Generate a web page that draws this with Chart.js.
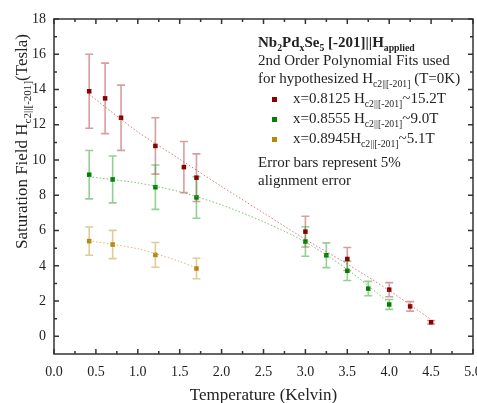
<!DOCTYPE html>
<html>
<head>
<meta charset="utf-8">
<script src="https://cdn.jsdelivr.net/npm/chart.js@4"></script>
<style>
  html, body { margin: 0; padding: 0; background: #fff; }
  #wrap { width: 477px; height: 403px; }
</style>
</head>
<body>
<div id="wrap"><canvas id="chart"></canvas></div>
<script>
// measured points, x = 0.8125
const redT = [0.42, 0.61, 0.80, 1.21, 1.55, 1.70, 3.0, 3.5, 4.0, 4.25, 4.5];
const redH = [13.9, 13.5, 12.4, 10.8, 9.6, 9.0, 5.94, 4.39, 2.65, 1.70, 0.80];
const redErr = [2.1, 2.0, 1.85, 1.6, 1.45, 1.35, 0.87, 0.65, 0.4, 0.27, 0.1];

// x = 0.8555
const greenT = [0.42, 0.70, 1.21, 1.70, 3.0, 3.25, 3.5, 3.75, 4.0];
const greenH = [9.17, 8.9, 8.46, 7.88, 5.38, 4.6, 3.72, 2.71, 1.81];
const greenErr = [1.37, 1.33, 1.26, 1.18, 0.84, 0.7, 0.55, 0.41, 0.28];

// x = 0.8945
const goldT = [0.42, 0.70, 1.21, 1.70];
const goldH = [5.4, 5.21, 4.62, 3.85];
const goldErr = [0.8, 0.8, 0.7, 0.58];

// fit curves
const redFitT = [0.42, 1.0, 1.5, 2.0, 2.5, 3.0, 3.5, 4.0, 4.5];
const redFitH = [13.72, 11.6, 10.05, 8.5, 7.0, 5.5, 4.1, 2.6, 0.95];
const greenFitT = [0.42, 1.0, 1.5, 2.0, 2.5, 3.0, 3.5, 4.0];
const greenFitH = [9.05, 8.7, 8.2, 7.45, 6.5, 5.35, 3.8, 1.9];
const goldFitT = [0.42, 0.7, 1.0, 1.22, 1.5, 1.7];
const goldFitH = [5.42, 5.22, 4.97, 4.68, 4.25, 3.87];

const xTicks = [0, 0.5, 1, 1.5, 2, 2.5, 3, 3.5, 4, 4.5, 5];
const yTicks = [0, 2, 4, 6, 8, 10, 12, 14, 16, 18];

const RED = '#8b0000', GREEN = '#008000', GOLD = '#b8860b';
const RED_ERR = 'rgba(180,80,80,0.55)', GREEN_ERR = 'rgba(60,170,60,0.55)', GOLD_ERR = 'rgba(200,160,70,0.55)';
const SERIF = '"Liberation Serif", "DejaVu Serif", serif';

const pts = (xs, ys) => xs.map((x, i) => ({ x: x, y: ys[i] }));

function fitSet(xs, ys, color) {
  return {
    data: pts(xs, ys), showLine: true, borderColor: color, borderWidth: 1,
    borderDash: [1.5, 2], pointRadius: 0, tension: 0.3, fill: false
  };
}
function markSet(xs, ys, err, color, errColor) {
  return {
    data: pts(xs, ys), err: err, errColor: errColor, showLine: false,
    pointStyle: 'rect', pointRadius: 3.2, backgroundColor: color, borderColor: color, borderWidth: 0
  };
}

// draw text with subscript pieces: [text, 'n' | 's']
function richText(ctx, parts, x, y, size, bold) {
  let cx = x;
  parts.forEach(p => {
    const sub = p[1] === 's';
    const fs = sub ? size * 0.65 : size;
    ctx.font = (bold ? 'bold ' : '') + fs + 'px ' + SERIF;
    ctx.fillText(p[0], cx, sub ? y + size * 0.25 : y);
    cx += ctx.measureText(p[0]).width;
  });
  return cx - x;
}

const errorBars = {
  id: 'errorBars',
  beforeDatasetsDraw(chart) {
    const ctx = chart.ctx, xs = chart.scales.x, ys = chart.scales.y;
    chart.data.datasets.forEach(ds => {
      if (!ds.err) return;
      ctx.save();
      ctx.strokeStyle = ds.errColor;
      ctx.lineWidth = 1.6;
      ds.data.forEach((p, i) => {
        const px = xs.getPixelForValue(p.x);
        const top = ys.getPixelForValue(p.y + ds.err[i]);
        const bot = ys.getPixelForValue(p.y - ds.err[i]);
        ctx.beginPath();
        ctx.moveTo(px, top); ctx.lineTo(px, bot);
        ctx.moveTo(px - 4, top); ctx.lineTo(px + 4, top);
        ctx.moveTo(px - 4, bot); ctx.lineTo(px + 4, bot);
        ctx.stroke();
      });
      ctx.restore();
    });
  }
};

const frame = {
  id: 'frame',
  afterDraw(chart) {
    const ctx = chart.ctx, a = chart.chartArea, xs = chart.scales.x, ys = chart.scales.y;
    ctx.save();
    ctx.strokeStyle = '#333';
    ctx.lineWidth = 1.5;
    ctx.strokeRect(a.left, a.top, a.right - a.left, a.bottom - a.top);
    ctx.beginPath();
    for (let v = 0; v <= 5.001; v += 0.25) {
      const px = xs.getPixelForValue(v);
      const len = Math.abs(v * 2 - Math.round(v * 2)) < 0.01 ? 5 : 3;
      ctx.moveTo(px, a.bottom); ctx.lineTo(px, a.bottom - len);
      ctx.moveTo(px, a.top); ctx.lineTo(px, a.top + len);
    }
    for (let v = 0; v <= 18; v += 1) {
      const py = ys.getPixelForValue(v);
      const len = v % 2 === 0 ? 5 : 3;
      ctx.moveTo(a.left, py); ctx.lineTo(a.left + len, py);
      ctx.moveTo(a.right, py); ctx.lineTo(a.right - len, py);
    }
    ctx.stroke();

    // axis titles
    ctx.fillStyle = '#222';
    ctx.textBaseline = 'alphabetic';
    ctx.font = '17px ' + SERIF;
    ctx.textAlign = 'center';
    ctx.fillText('Temperature (Kelvin)', (a.left + a.right) / 2, 400);
    ctx.textAlign = 'left';
    ctx.save();
    ctx.translate(27, 249);
    ctx.rotate(-Math.PI / 2);
    richText(ctx, [['Saturation Field H', 'n'], ['c2||[-201]', 's'], ['(Tesla)', 'n']], 0, 0, 17, false);
    ctx.restore();

    // annotation / legend
    const lx = 258;
    richText(ctx, [['Nb', 'n'], ['2', 's'], ['Pd', 'n'], ['x', 's'], ['Se', 'n'], ['5', 's'], [' [-201]||H', 'n'], ['applied', 's']], lx, 47, 15, true);
    richText(ctx, [['2nd Order Polynomial Fits used', 'n']], lx, 65, 15, false);
    richText(ctx, [['for hypothesized H', 'n'], ['c2||[-201]', 's'], [' (T=0K)', 'n']], lx, 83, 15, false);
    const rows = [
      [RED, [['x=0.8125 H', 'n'], ['c2||[-201]', 's'], ['~15.2T', 'n']]],
      [GREEN, [['x=0.8555 H', 'n'], ['c2||[-201]', 's'], ['~9.0T', 'n']]],
      [GOLD, [['x=0.8945H', 'n'], ['c2||[-201]', 's'], ['~5.1T', 'n']]]
    ];
    rows.forEach((r, i) => {
      const by = 103 + i * 20;
      ctx.fillStyle = r[0];
      ctx.fillRect(272, by - 6, 5, 5);
      ctx.fillStyle = '#222';
      richText(ctx, r[1], 293, by, 15, false);
    });
    richText(ctx, [['Error bars represent 5%', 'n']], lx, 167, 15, false);
    richText(ctx, [['alignment error', 'n']], lx, 185, 15, false);
    ctx.restore();
  }
};

new Chart(document.getElementById('chart'), {
  type: 'scatter',
  data: {
    datasets: [
      fitSet(redFitT, redFitH, 'rgba(200,90,90,0.8)'),
      fitSet(greenFitT, greenFitH, 'rgba(80,180,80,0.8)'),
      fitSet(goldFitT, goldFitH, 'rgba(210,170,90,0.8)'),
      markSet(redT, redH, redErr, RED, RED_ERR),
      markSet(greenT, greenH, greenErr, GREEN, GREEN_ERR),
      markSet(goldT, goldH, goldErr, GOLD, GOLD_ERR)
    ]
  },
  options: {
    responsive: true,
    maintainAspectRatio: false,
    animation: false,
    layout: { padding: { top: 19, right: 4, left: 0, bottom: 0 } },
    plugins: { legend: { display: false }, tooltip: { enabled: false } },
    scales: {
      x: {
        type: 'linear', min: 0, max: 5,
        grid: { display: false, drawTicks: false }, border: { display: false },
        afterBuildTicks: s => { s.ticks = xTicks.map(v => ({ value: v })); },
        afterFit: s => { s.height = 49; s.paddingLeft = 0; s.paddingRight = 0; },
        ticks: {
          color: '#222', padding: 10, maxRotation: 0, autoSkip: false,
          font: { family: SERIF, size: 14 },
          callback: v => Number(v).toFixed(1)
        }
      },
      y: {
        type: 'linear', min: -1, max: 18,
        grid: { display: false, drawTicks: false }, border: { display: false },
        afterBuildTicks: s => { s.ticks = yTicks.map(v => ({ value: v })); },
        afterFit: s => { s.width = 54; },
        ticks: {
          color: '#222', padding: 8,
          font: { family: SERIF, size: 14 }
        }
      }
    }
  },
  plugins: [errorBars, frame]
});
</script>
</body>
</html>
